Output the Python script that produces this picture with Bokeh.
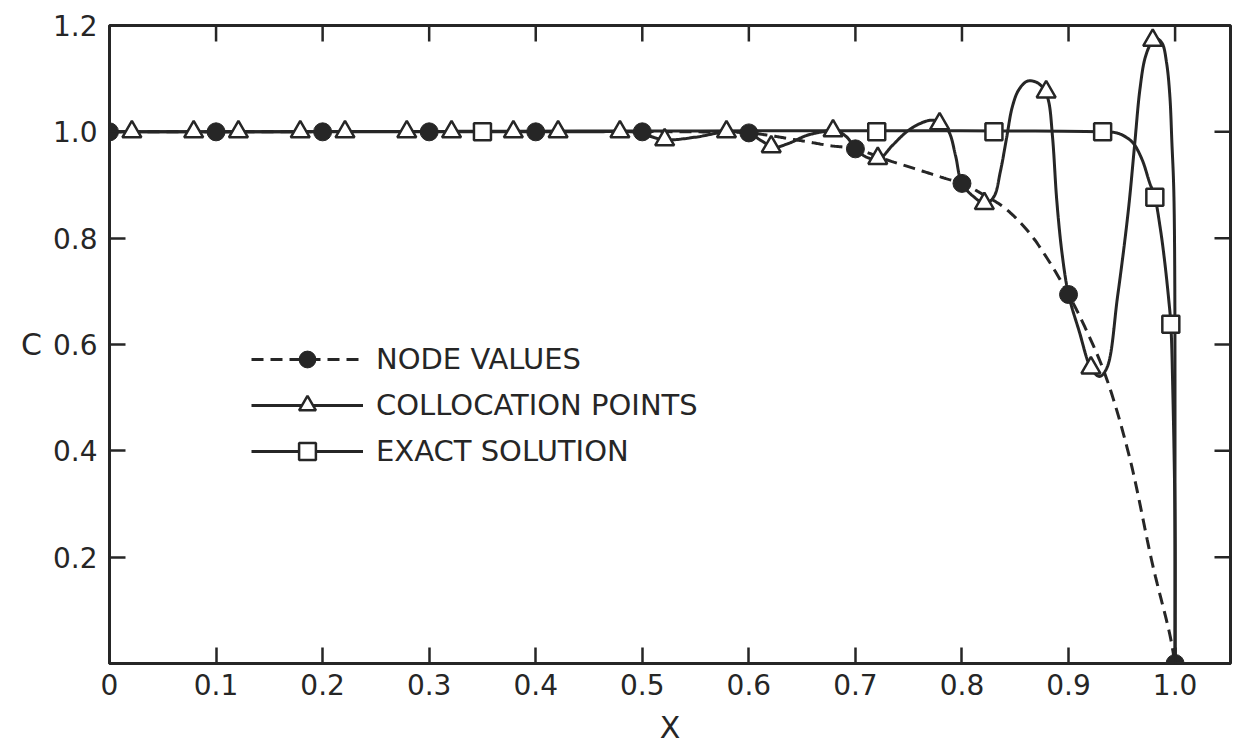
import numpy as np
from bokeh.plotting import figure
from bokeh.models import Range1d, FixedTicker, Legend, LegendItem
from bokeh.embed import file_html
from bokeh.resources import INLINE

# ---------------- data ----------------
x_ticks = [0, 0.1, 0.2, 0.3, 0.4, 0.5, 0.6, 0.7, 0.8, 0.9, 1.0]
x_tick_labels = ["0", "0.1", "0.2", "0.3", "0.4", "0.5", "0.6", "0.7", "0.8", "0.9", "1.0"]
y_ticks = [0.2, 0.4, 0.6, 0.8, 1.0, 1.2]
y_tick_labels = ["0.2", "0.4", "0.6", "0.8", "1.0", "1.2"]

legend_labels = ["NODE VALUES", "COLLOCATION POINTS", "EXACT SOLUTION"]
x_title = "X"
y_title = "C"

# node values (filled circles)
node_x = [0.0, 0.1, 0.2, 0.3, 0.4, 0.5, 0.6, 0.7, 0.8, 0.9, 1.0]
node_c = [1.0, 1.0, 1.0, 1.0, 1.0, 1.0, 0.998, 0.968, 0.903, 0.694, 0.0]

# collocation points (open triangles)
colloc_x = [0.021, 0.079, 0.121, 0.179, 0.221, 0.279, 0.321, 0.379, 0.421, 0.479,
            0.521, 0.579, 0.621, 0.679, 0.721, 0.779, 0.821, 0.879, 0.921, 0.979]
colloc_c = [1.0, 1.0, 1.0, 1.0, 1.0, 1.0, 1.0, 1.0, 1.0, 1.0,
            0.985, 1.0, 0.972, 1.002, 0.950, 1.015, 0.865, 1.075, 0.556, 1.172]

# exact solution (open squares)
exact_x = [0.35, 0.72, 0.83, 0.932, 0.981, 0.996]
exact_c = [1.0, 1.0, 1.0, 1.0, 0.877, 0.638]

# traced curves
node_curve_x = [0.0, 0.55, 0.6, 0.62, 0.638, 0.656, 0.676, 0.7, 0.73, 0.76, 0.785, 0.8,
                0.82, 0.84, 0.862, 0.879, 0.9, 0.916, 0.935, 0.957, 0.979, 0.995, 1.0]
node_curve_c = [1.0, 1.0, 0.998, 0.993, 0.987, 0.981, 0.974, 0.968, 0.947, 0.928, 0.912, 0.903,
                0.882, 0.857, 0.813, 0.765, 0.694, 0.63, 0.54, 0.39, 0.185, 0.055, 0.0]

colloc_curve_x = [0.0, 0.45, 0.49, 0.505, 0.521, 0.55, 0.579, 0.6, 0.612, 0.623, 0.637,
                  0.654, 0.669, 0.681, 0.692, 0.7, 0.711, 0.722, 0.735, 0.748, 0.76, 0.772,
                  0.781, 0.788, 0.794, 0.8, 0.811, 0.822, 0.83, 0.836, 0.842, 0.847, 0.853,
                  0.861, 0.869, 0.876, 0.881, 0.885, 0.889, 0.894, 0.9, 0.91, 0.921, 0.929,
                  0.936, 0.946, 0.956, 0.962, 0.967, 0.972, 0.978, 0.983, 0.988, 0.992,
                  0.995, 0.997, 0.999, 1.0]
colloc_curve_c = [1.0, 1.0, 1.0, 0.993, 0.985, 0.99, 1.0, 0.997, 0.983, 0.971, 0.978,
                  0.993, 1.0, 1.003, 0.99, 0.968, 0.952, 0.949, 0.975, 1.0, 1.015, 1.022,
                  1.016, 0.999, 0.955, 0.903, 0.878, 0.865, 0.878, 0.925, 0.99, 1.045, 1.078,
                  1.095, 1.094, 1.083, 1.06, 0.99, 0.87, 0.77, 0.694, 0.625, 0.556, 0.54,
                  0.556, 0.69, 0.85, 0.975, 1.08, 1.14, 1.168, 1.175, 1.166, 1.13,
                  1.07, 0.98, 0.87, 0.0]

exact_curve_x = [0.0, 0.93, 0.945, 0.954, 0.961, 0.969, 0.976, 0.981, 0.986, 0.99,
                 0.994, 0.996, 0.998, 1.0, 1.0]
exact_curve_c = [1.0, 1.0, 0.998, 0.99, 0.978, 0.948, 0.905, 0.877, 0.82, 0.76,
                 0.685, 0.638, 0.5, 0.25, 0.0]

# ---------------- style / layout ----------------
INK = "#262626"
FONT = "DejaVu Sans"
FRAME_W, FRAME_H = 1121, 638
X_MAX, Y_MAX = 1.052, 1.2
KX, KY = FRAME_W / X_MAX, FRAME_H / Y_MAX
TICK = 16  # px, ticks point inwards


def smooth(xs, ys, n=20):
    """Centripetal Catmull-Rom through the traced points (drawing only)."""
    P = np.column_stack([np.asarray(xs, float) * KX, np.asarray(ys, float) * KY])
    P = np.vstack([2 * P[0] - P[1], P, 2 * P[-1] - P[-2]])
    out = [P[1]]
    for i in range(1, len(P) - 2):
        p0, p1, p2, p3 = P[i - 1], P[i], P[i + 1], P[i + 2]
        t0 = 0.0
        t1 = t0 + np.linalg.norm(p1 - p0) ** 0.5
        t2 = t1 + np.linalg.norm(p2 - p1) ** 0.5
        t3 = t2 + np.linalg.norm(p3 - p2) ** 0.5
        for t in np.linspace(t1, t2, n + 1)[1:]:
            a1 = (t1 - t) / (t1 - t0) * p0 + (t - t0) / (t1 - t0) * p1
            a2 = (t2 - t) / (t2 - t1) * p1 + (t - t1) / (t2 - t1) * p2
            a3 = (t3 - t) / (t3 - t2) * p2 + (t - t2) / (t3 - t2) * p3
            b1 = (t2 - t) / (t2 - t0) * a1 + (t - t0) / (t2 - t0) * a2
            b2 = (t3 - t) / (t3 - t1) * a2 + (t - t1) / (t3 - t1) * a3
            out.append((t2 - t) / (t2 - t1) * b1 + (t - t1) / (t2 - t1) * b2)
    out = np.array(out)
    return out[:, 0] / KX, out[:, 1] / KY


p = figure(frame_width=FRAME_W, frame_height=FRAME_H,
           x_range=Range1d(0, X_MAX), y_range=Range1d(0, Y_MAX),
           output_backend="svg", toolbar_location=None,
           min_border_left=109, min_border_right=3, min_border_top=25, min_border_bottom=80)
p.background_fill_color = "white"
p.border_fill_color = "white"
p.grid.visible = False
p.outline_line_color = INK
p.outline_line_width = 3


def style_axis(ax, ticks, labels, standoff):
    ax.ticker = FixedTicker(ticks=ticks)
    ax.major_label_overrides = {t: l for t, l in zip(ticks, labels)}
    ax.axis_line_color = INK
    ax.axis_line_width = 3
    ax.major_tick_line_color = INK
    ax.major_tick_line_width = 2.5
    ax.major_tick_in = TICK
    ax.major_tick_out = 0
    ax.minor_tick_line_color = None
    ax.major_label_standoff = standoff
    ax.major_label_text_font = FONT
    ax.major_label_text_color = INK
    ax.major_label_text_font_size = "28px"
    ax.axis_label_text_font = FONT
    ax.axis_label_text_font_style = "normal"
    ax.axis_label_text_font_size = "30px"
    ax.axis_label_text_color = INK


style_axis(p.xaxis[0], x_ticks, x_tick_labels, 10)
style_axis(p.yaxis[0], y_ticks, y_tick_labels, 12)
p.xaxis[0].axis_label = x_title
p.xaxis[0].axis_label_standoff = 12
p.yaxis[0].axis_label = y_title
p.yaxis[0].axis_label_standoff = 8
p.yaxis[0].axis_label_orientation = "horizontal"
p.yaxis[0].axis_label_text_baseline = "top"

# inward ticks on the top and right edges of the frame (same tick positions)
p.segment(x0=x_ticks[1:], y0=[Y_MAX] * (len(x_ticks) - 1), x1=x_ticks[1:],
          y1=[Y_MAX - TICK / KY] * (len(x_ticks) - 1), line_color=INK, line_width=2.5)
p.segment(x0=[X_MAX] * len(y_ticks), y0=y_ticks, x1=[X_MAX - TICK / KX] * len(y_ticks),
          y1=y_ticks, line_color=INK, line_width=2.5)

# curves
nx, nc = smooth(node_curve_x, node_curve_c)
cx, cc = smooth(colloc_curve_x, colloc_curve_c)
ex, ec = smooth(exact_curve_x, exact_curve_c)

r_exact_line = p.line(ex, ec, line_color=INK, line_width=3)
r_node_line = p.line(nx, nc, line_color=INK, line_width=3, line_dash="12 7")
r_coll_line = p.line(cx, cc, line_color=INK, line_width=3)

r_exact_pts = p.scatter(exact_x, exact_c, marker="square", size=17, fill_color="white",
                        line_color=INK, line_width=2.5)
r_coll_pts = p.scatter(colloc_x, colloc_c, marker="triangle", size=19, fill_color="white",
                       line_color=INK, line_width=2.5)
r_node_pts = p.scatter(node_x, node_c, marker="circle", size=18, fill_color=INK,
                       line_color=INK, line_width=1)

legend = Legend(items=[
    LegendItem(label=legend_labels[0], renderers=[r_node_line, r_node_pts]),
    LegendItem(label=legend_labels[1], renderers=[r_coll_line, r_coll_pts]),
    LegendItem(label=legend_labels[2], renderers=[r_exact_line, r_exact_pts]),
], location=(142, 191), orientation="vertical")
legend.glyph_width = 112
legend.glyph_height = 42
legend.label_height = 42
legend.spacing = 4
legend.padding = 0
legend.margin = 0
legend.label_standoff = 13
legend.label_text_font = FONT
legend.label_text_font_size = "29px"
legend.label_text_color = INK
legend.border_line_color = None
legend.background_fill_alpha = 0
p.add_layout(legend)

open("out.html", "w").write(file_html(p, INLINE))
